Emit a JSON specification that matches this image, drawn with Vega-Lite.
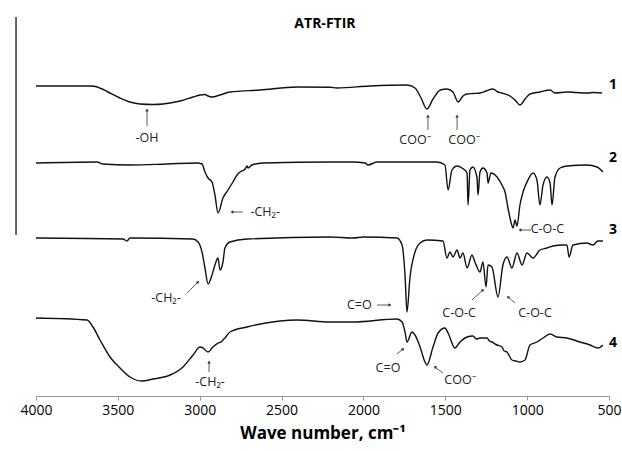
{
  "$schema": "https://vega.github.io/schema/vega-lite/v6.json",
  "width": 573,
  "height": 396,
  "autosize": {"type": "none"},
  "padding": {"left": 36, "right": 13, "top": 0, "bottom": 55},
  "config": {"view": {"stroke": null}, "font": "Open Sans"},
  "datasets": {
    "spectra": [
      {"s": "1", "wn": 4000, "a": 310}, {"s": "1", "wn": 3658, "a": 310}, {"s": "1", "wn": 3603, "a": 307.5}, {"s": "1", "wn": 3566, "a": 304.5}, {"s": "1", "wn": 3487, "a": 298}, {"s": "1", "wn": 3426, "a": 294}, {"s": "1", "wn": 3365, "a": 292}, {"s": "1", "wn": 3285, "a": 291.5}, {"s": "1", "wn": 3224, "a": 292}, {"s": "1", "wn": 3120, "a": 295}, {"s": "1", "wn": 3041, "a": 299}, {"s": "1", "wn": 2998, "a": 301}, {"s": "1", "wn": 2968, "a": 301.5}, {"s": "1", "wn": 2949, "a": 300}, {"s": "1", "wn": 2925, "a": 299}, {"s": "1", "wn": 2876, "a": 301}, {"s": "1", "wn": 2815, "a": 304}, {"s": "1", "wn": 2632, "a": 306}, {"s": "1", "wn": 2406, "a": 309}, {"s": "1", "wn": 2204, "a": 308.7}, {"s": "1", "wn": 2161, "a": 308}, {"s": "1", "wn": 1960, "a": 310}, {"s": "1", "wn": 1734, "a": 311}, {"s": "1", "wn": 1685, "a": 308}, {"s": "1", "wn": 1648, "a": 298}, {"s": "1", "wn": 1612, "a": 287}, {"s": "1", "wn": 1575, "a": 297}, {"s": "1", "wn": 1530, "a": 306}, {"s": "1", "wn": 1490, "a": 307}, {"s": "1", "wn": 1453, "a": 304}, {"s": "1", "wn": 1422, "a": 294}, {"s": "1", "wn": 1392, "a": 300}, {"s": "1", "wn": 1367, "a": 302}, {"s": "1", "wn": 1330, "a": 302.5}, {"s": "1", "wn": 1288, "a": 303}, {"s": "1", "wn": 1250, "a": 305}, {"s": "1", "wn": 1209, "a": 307}, {"s": "1", "wn": 1180, "a": 304}, {"s": "1", "wn": 1154, "a": 303}, {"s": "1", "wn": 1105, "a": 300}, {"s": "1", "wn": 1074, "a": 296}, {"s": "1", "wn": 1044, "a": 291}, {"s": "1", "wn": 1013, "a": 297}, {"s": "1", "wn": 983, "a": 302}, {"s": "1", "wn": 922, "a": 304}, {"s": "1", "wn": 860, "a": 306}, {"s": "1", "wn": 830, "a": 303}, {"s": "1", "wn": 757, "a": 304}, {"s": "1", "wn": 700, "a": 303.5}, {"s": "1", "wn": 635, "a": 303}, {"s": "1", "wn": 590, "a": 303.5}, {"s": "1", "wn": 543, "a": 303},

      {"s": "2", "wn": 4000, "a": 233}, {"s": "2", "wn": 3627, "a": 234}, {"s": "2", "wn": 3591, "a": 232}, {"s": "2", "wn": 3426, "a": 231}, {"s": "2", "wn": 3200, "a": 232}, {"s": "2", "wn": 3017, "a": 233}, {"s": "2", "wn": 2986, "a": 232}, {"s": "2", "wn": 2968, "a": 224}, {"s": "2", "wn": 2949, "a": 218}, {"s": "2", "wn": 2925, "a": 214}, {"s": "2", "wn": 2907, "a": 201}, {"s": "2", "wn": 2888, "a": 183}, {"s": "2", "wn": 2858, "a": 198}, {"s": "2", "wn": 2827, "a": 206}, {"s": "2", "wn": 2797, "a": 214}, {"s": "2", "wn": 2772, "a": 221}, {"s": "2", "wn": 2754, "a": 224}, {"s": "2", "wn": 2723, "a": 227}, {"s": "2", "wn": 2711, "a": 230}, {"s": "2", "wn": 2705, "a": 228}, {"s": "2", "wn": 2681, "a": 231}, {"s": "2", "wn": 2613, "a": 233}, {"s": "2", "wn": 2204, "a": 234}, {"s": "2", "wn": 2064, "a": 234}, {"s": "2", "wn": 1990, "a": 233}, {"s": "2", "wn": 1972, "a": 231}, {"s": "2", "wn": 1917, "a": 234}, {"s": "2", "wn": 1551, "a": 234}, {"s": "2", "wn": 1502, "a": 231}, {"s": "2", "wn": 1483, "a": 206}, {"s": "2", "wn": 1459, "a": 226}, {"s": "2", "wn": 1428, "a": 230}, {"s": "2", "wn": 1398, "a": 228}, {"s": "2", "wn": 1367, "a": 223}, {"s": "2", "wn": 1361, "a": 191}, {"s": "2", "wn": 1349, "a": 226}, {"s": "2", "wn": 1331, "a": 229}, {"s": "2", "wn": 1306, "a": 218}, {"s": "2", "wn": 1300, "a": 201}, {"s": "2", "wn": 1288, "a": 224}, {"s": "2", "wn": 1270, "a": 228}, {"s": "2", "wn": 1245, "a": 223}, {"s": "2", "wn": 1239, "a": 213}, {"s": "2", "wn": 1221, "a": 223}, {"s": "2", "wn": 1184, "a": 219}, {"s": "2", "wn": 1154, "a": 211}, {"s": "2", "wn": 1135, "a": 204}, {"s": "2", "wn": 1117, "a": 188}, {"s": "2", "wn": 1099, "a": 174}, {"s": "2", "wn": 1086, "a": 168}, {"s": "2", "wn": 1074, "a": 176}, {"s": "2", "wn": 1062, "a": 170}, {"s": "2", "wn": 1044, "a": 191}, {"s": "2", "wn": 1025, "a": 204}, {"s": "2", "wn": 995, "a": 216}, {"s": "2", "wn": 964, "a": 223}, {"s": "2", "wn": 940, "a": 216}, {"s": "2", "wn": 922, "a": 191}, {"s": "2", "wn": 903, "a": 211}, {"s": "2", "wn": 879, "a": 219}, {"s": "2", "wn": 860, "a": 213}, {"s": "2", "wn": 848, "a": 191}, {"s": "2", "wn": 830, "a": 219}, {"s": "2", "wn": 799, "a": 228}, {"s": "2", "wn": 757, "a": 230}, {"s": "2", "wn": 635, "a": 231}, {"s": "2", "wn": 573, "a": 229}, {"s": "2", "wn": 537, "a": 224},

      {"s": "3", "wn": 4000, "a": 158}, {"s": "3", "wn": 3469, "a": 157}, {"s": "3", "wn": 3444, "a": 155}, {"s": "3", "wn": 3426, "a": 158}, {"s": "3", "wn": 3041, "a": 157}, {"s": "3", "wn": 3010, "a": 154}, {"s": "3", "wn": 2986, "a": 144}, {"s": "3", "wn": 2968, "a": 128}, {"s": "3", "wn": 2949, "a": 112}, {"s": "3", "wn": 2925, "a": 121}, {"s": "3", "wn": 2907, "a": 131}, {"s": "3", "wn": 2888, "a": 138}, {"s": "3", "wn": 2876, "a": 126}, {"s": "3", "wn": 2858, "a": 134}, {"s": "3", "wn": 2846, "a": 148}, {"s": "3", "wn": 2815, "a": 154}, {"s": "3", "wn": 2711, "a": 157}, {"s": "3", "wn": 2204, "a": 159}, {"s": "3", "wn": 2064, "a": 158}, {"s": "3", "wn": 2000, "a": 159}, {"s": "3", "wn": 1795, "a": 158}, {"s": "3", "wn": 1764, "a": 151}, {"s": "3", "wn": 1746, "a": 121}, {"s": "3", "wn": 1734, "a": 84}, {"s": "3", "wn": 1716, "a": 118}, {"s": "3", "wn": 1685, "a": 144}, {"s": "3", "wn": 1654, "a": 153}, {"s": "3", "wn": 1612, "a": 156}, {"s": "3", "wn": 1514, "a": 155}, {"s": "3", "wn": 1490, "a": 138}, {"s": "3", "wn": 1471, "a": 144}, {"s": "3", "wn": 1453, "a": 139}, {"s": "3", "wn": 1428, "a": 146}, {"s": "3", "wn": 1410, "a": 138}, {"s": "3", "wn": 1392, "a": 143}, {"s": "3", "wn": 1367, "a": 128}, {"s": "3", "wn": 1337, "a": 141}, {"s": "3", "wn": 1319, "a": 134}, {"s": "3", "wn": 1288, "a": 124}, {"s": "3", "wn": 1270, "a": 134}, {"s": "3", "wn": 1251, "a": 109}, {"s": "3", "wn": 1239, "a": 131}, {"s": "3", "wn": 1215, "a": 129}, {"s": "3", "wn": 1178, "a": 99}, {"s": "3", "wn": 1148, "a": 131}, {"s": "3", "wn": 1123, "a": 139}, {"s": "3", "wn": 1093, "a": 128}, {"s": "3", "wn": 1062, "a": 143}, {"s": "3", "wn": 1031, "a": 131}, {"s": "3", "wn": 1001, "a": 143}, {"s": "3", "wn": 964, "a": 138}, {"s": "3", "wn": 922, "a": 146}, {"s": "3", "wn": 879, "a": 148}, {"s": "3", "wn": 842, "a": 150}, {"s": "3", "wn": 781, "a": 151}, {"s": "3", "wn": 757, "a": 151}, {"s": "3", "wn": 744, "a": 139}, {"s": "3", "wn": 720, "a": 151}, {"s": "3", "wn": 635, "a": 153}, {"s": "3", "wn": 598, "a": 151}, {"s": "3", "wn": 567, "a": 155}, {"s": "3", "wn": 537, "a": 155},

      {"s": "4", "wn": 4000, "a": 78}, {"s": "4", "wn": 3688, "a": 76}, {"s": "4", "wn": 3652, "a": 69}, {"s": "4", "wn": 3609, "a": 56}, {"s": "4", "wn": 3548, "a": 39}, {"s": "4", "wn": 3487, "a": 28}, {"s": "4", "wn": 3426, "a": 19}, {"s": "4", "wn": 3353, "a": 15}, {"s": "4", "wn": 3285, "a": 17}, {"s": "4", "wn": 3181, "a": 21}, {"s": "4", "wn": 3102, "a": 29}, {"s": "4", "wn": 3041, "a": 41}, {"s": "4", "wn": 2998, "a": 49}, {"s": "4", "wn": 2980, "a": 48}, {"s": "4", "wn": 2949, "a": 44}, {"s": "4", "wn": 2919, "a": 49}, {"s": "4", "wn": 2888, "a": 53}, {"s": "4", "wn": 2870, "a": 54}, {"s": "4", "wn": 2858, "a": 56}, {"s": "4", "wn": 2846, "a": 58}, {"s": "4", "wn": 2815, "a": 64}, {"s": "4", "wn": 2711, "a": 69}, {"s": "4", "wn": 2510, "a": 75}, {"s": "4", "wn": 2406, "a": 76}, {"s": "4", "wn": 2204, "a": 74}, {"s": "4", "wn": 2064, "a": 74}, {"s": "4", "wn": 1795, "a": 77}, {"s": "4", "wn": 1764, "a": 74}, {"s": "4", "wn": 1746, "a": 64}, {"s": "4", "wn": 1734, "a": 54}, {"s": "4", "wn": 1703, "a": 64}, {"s": "4", "wn": 1685, "a": 61}, {"s": "4", "wn": 1654, "a": 49}, {"s": "4", "wn": 1624, "a": 34}, {"s": "4", "wn": 1612, "a": 31}, {"s": "4", "wn": 1575, "a": 49}, {"s": "4", "wn": 1544, "a": 63}, {"s": "4", "wn": 1502, "a": 68}, {"s": "4", "wn": 1483, "a": 63}, {"s": "4", "wn": 1441, "a": 48}, {"s": "4", "wn": 1410, "a": 54}, {"s": "4", "wn": 1367, "a": 59}, {"s": "4", "wn": 1331, "a": 60}, {"s": "4", "wn": 1310, "a": 57}, {"s": "4", "wn": 1288, "a": 58}, {"s": "4", "wn": 1245, "a": 58}, {"s": "4", "wn": 1230, "a": 55}, {"s": "4", "wn": 1215, "a": 54}, {"s": "4", "wn": 1184, "a": 51}, {"s": "4", "wn": 1154, "a": 49}, {"s": "4", "wn": 1140, "a": 45}, {"s": "4", "wn": 1123, "a": 44}, {"s": "4", "wn": 1093, "a": 36}, {"s": "4", "wn": 1070, "a": 35}, {"s": "4", "wn": 1044, "a": 34}, {"s": "4", "wn": 1013, "a": 36}, {"s": "4", "wn": 983, "a": 51}, {"s": "4", "wn": 940, "a": 54}, {"s": "4", "wn": 903, "a": 58}, {"s": "4", "wn": 860, "a": 62}, {"s": "4", "wn": 818, "a": 59}, {"s": "4", "wn": 757, "a": 58}, {"s": "4", "wn": 677, "a": 54}, {"s": "4", "wn": 616, "a": 51}, {"s": "4", "wn": 567, "a": 48}, {"s": "4", "wn": 537, "a": 51}
    ],
    "notes": [
      {"wn": 3322, "a": 258, "t": "-OH"},
      {"wn": 1685, "a": 256, "t": "COO⁻"},
      {"wn": 1386, "a": 256, "t": "COO⁻"},
      {"wn": 2600, "a": 184, "t": "-CH₂-"},
      {"wn": 876, "a": 167, "t": "C-O-C"},
      {"wn": 3206, "a": 98, "t": "-CH₂-"},
      {"wn": 2025, "a": 91, "t": "C=O"},
      {"wn": 1416, "a": 83, "t": "C-O-C"},
      {"wn": 952, "a": 83, "t": "C-O-C"},
      {"wn": 2937, "a": 14, "t": "-CH₂-"},
      {"wn": 1850, "a": 28, "t": "C=O"},
      {"wn": 1410, "a": 16, "t": "COO⁻"}
    ],
    "arrows": [
      {"wn": 3322, "a": 270, "wn2": 3322, "a2": 286, "ang": 0},
      {"wn": 1606, "a": 266, "wn2": 1606, "a2": 280, "ang": 0},
      {"wn": 1428, "a": 266, "wn2": 1428, "a2": 280, "ang": 0},
      {"wn": 2736, "a": 184, "wn2": 2803, "a2": 184, "ang": 270},
      {"wn": 976, "a": 166, "wn2": 1044, "a2": 166, "ang": 270},
      {"wn": 3078, "a": 103, "wn2": 3010, "a2": 114, "ang": 45},
      {"wn": 1917, "a": 91, "wn2": 1838, "a2": 91, "ang": 90},
      {"wn": 1337, "a": 96, "wn2": 1270, "a2": 106, "ang": 48},
      {"wn": 1074, "a": 93, "wn2": 1117, "a2": 99, "ang": 311},
      {"wn": 2943, "a": 24, "wn2": 2943, "a2": 34, "ang": 0},
      {"wn": 1795, "a": 42, "wn2": 1758, "a2": 47, "ang": 40},
      {"wn": 1514, "a": 23, "wn2": 1563, "a2": 29, "ang": 307}
    ],
    "ids": [
      {"wn": 476, "a": 311, "t": "1"},
      {"wn": 476, "a": 238, "t": "2"},
      {"wn": 476, "a": 166, "t": "3"},
      {"wn": 476, "a": 53, "t": "4"}
    ],
    "heading": [{"wn": 2235, "a": 372, "t": "ATR-FTIR"}],
    "frame": [{"wn": 4122, "a": 379, "a2": 161}]
  },
  "encoding": {
    "x": {"field": "wn", "type": "quantitative", "scale": {"domain": [4000, 500], "nice": false, "zero": false},
      "axis": {"values": [4000, 3500, 3000, 2500, 2000, 1500, 1000, 500], "format": "d", "grid": false,
        "domainColor": "#999999", "tickColor": "#999999", "tickSize": 4, "labelFontSize": 14, "labelColor": "#000000",
        "labelFont": "Open Sans", "labelPadding": 3, "labelFlush": false, "labelOverlap": false,
        "title": "Wave number, cm⁻¹", "titleFontSize": 17, "titleFontWeight": "bold", "titleColor": "#000000",
        "titleFont": "Open Sans", "titlePadding": 8}},
    "y": {"field": "a", "type": "quantitative", "scale": {"domain": [0, 396], "nice": false, "zero": false}, "axis": null}
  },
  "layer": [
    {"data": {"name": "spectra"}, "mark": {"type": "line", "color": "#111111", "strokeWidth": 1.4, "interpolate": "monotone"},
      "encoding": {"detail": {"field": "s"}}},
    {"data": {"name": "frame"}, "mark": {"type": "rule", "color": "#000000", "strokeWidth": 1.2},
      "encoding": {"y2": {"field": "a2"}}},
    {"data": {"name": "arrows"}, "mark": {"type": "rule", "color": "#333333", "strokeWidth": 0.8},
      "encoding": {"x2": {"field": "wn2"}, "y2": {"field": "a2"}}},
    {"data": {"name": "arrows"}, "mark": {"type": "point", "shape": "triangle-up", "filled": true, "color": "#333333", "size": 12, "opacity": 1},
      "encoding": {"x": {"field": "wn2", "type": "quantitative"}, "y": {"field": "a2", "type": "quantitative"}, "angle": {"field": "ang", "type": "quantitative", "scale": null}}},
    {"data": {"name": "notes"}, "mark": {"type": "text", "fontSize": 12.5, "color": "#222222", "font": "Open Sans", "baseline": "middle", "align": "center"},
      "encoding": {"text": {"field": "t"}}},
    {"data": {"name": "ids"}, "mark": {"type": "text", "fontSize": 14, "fontWeight": "bold", "color": "#000000", "font": "Open Sans", "baseline": "middle", "align": "center"},
      "encoding": {"text": {"field": "t"}}},
    {"data": {"name": "heading"}, "mark": {"type": "text", "fontSize": 14, "fontWeight": "bold", "color": "#000000", "font": "Open Sans", "baseline": "middle", "align": "center"},
      "encoding": {"text": {"field": "t"}}}
  ]
}
